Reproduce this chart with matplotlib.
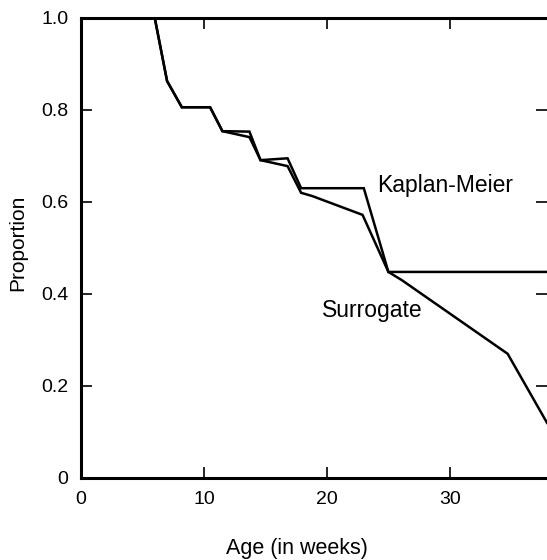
import numpy as np
import matplotlib
matplotlib.use('Agg')
import matplotlib.pyplot as plt

plt.rcParams['font.family'] = ['Liberation Sans', 'DejaVu Sans']

# curve points (age in weeks, proportion)
km_age = [0, 6.0, 7.0, 8.2, 10.5, 11.5, 13.7, 14.6, 16.8, 17.9, 23.0, 25.0, 38.0]
km_prop = [1.0, 1.0, 0.863, 0.806, 0.806, 0.754, 0.753, 0.691, 0.695, 0.63, 0.63, 0.448, 0.448]

sur_age = [0, 6.0, 7.0, 8.2, 10.5, 11.5, 13.7, 14.6, 16.8, 17.9, 18.8, 22.9, 25.0, 26.1, 34.7, 37.9]
sur_prop = [1.0, 1.0, 0.863, 0.806, 0.806, 0.754, 0.741, 0.691, 0.678, 0.62, 0.613, 0.572, 0.448, 0.43, 0.27, 0.12]

xticks = [0, 10, 20, 30]
yticks = [0, 0.2, 0.4, 0.6, 0.8, 1.0]
ylabels = ['0', '0.2', '0.4', '0.6', '0.8', '1.0']

fig = plt.figure(figsize=(5.47, 5.60), dpi=100)
ax = fig.add_axes([81/547, 82/560, 466/547, 460/560])

ax.plot(km_age, km_prop, color='black', lw=1.8, solid_joinstyle='miter')
ax.plot(sur_age, sur_prop, color='black', lw=1.8, solid_joinstyle='miter')

ax.text(24.1, 0.635, 'Kaplan-Meier', fontsize=16.5, va='center', ha='left')
ax.text(19.6, 0.365, 'Surrogate', fontsize=16.5, va='center', ha='left')

ax.set_xlim(0, 37.9)
ax.set_ylim(0, 1.0)
ax.set_xticks(xticks)
ax.set_xticklabels([str(t) for t in xticks])
ax.set_yticks(yticks)
ax.set_yticklabels(ylabels)
ax.tick_params(direction='in', length=8, width=1.2, labelsize=14, pad=9,
               top=True, right=True)
for s in ['left', 'bottom', 'top']:
    ax.spines[s].set_linewidth(2.2)
ax.spines['right'].set_visible(False)

# axis titles placed by hand, like the original
ax.text(0.4635, -0.154, 'Age (in weeks)', transform=ax.transAxes,
        fontsize=15.5, ha='center', va='center')
ax.text(-0.135, 0.511, 'Proportion', transform=ax.transAxes,
        fontsize=15, ha='center', va='center', rotation=90)

fig.savefig('out.png', dpi=100)
